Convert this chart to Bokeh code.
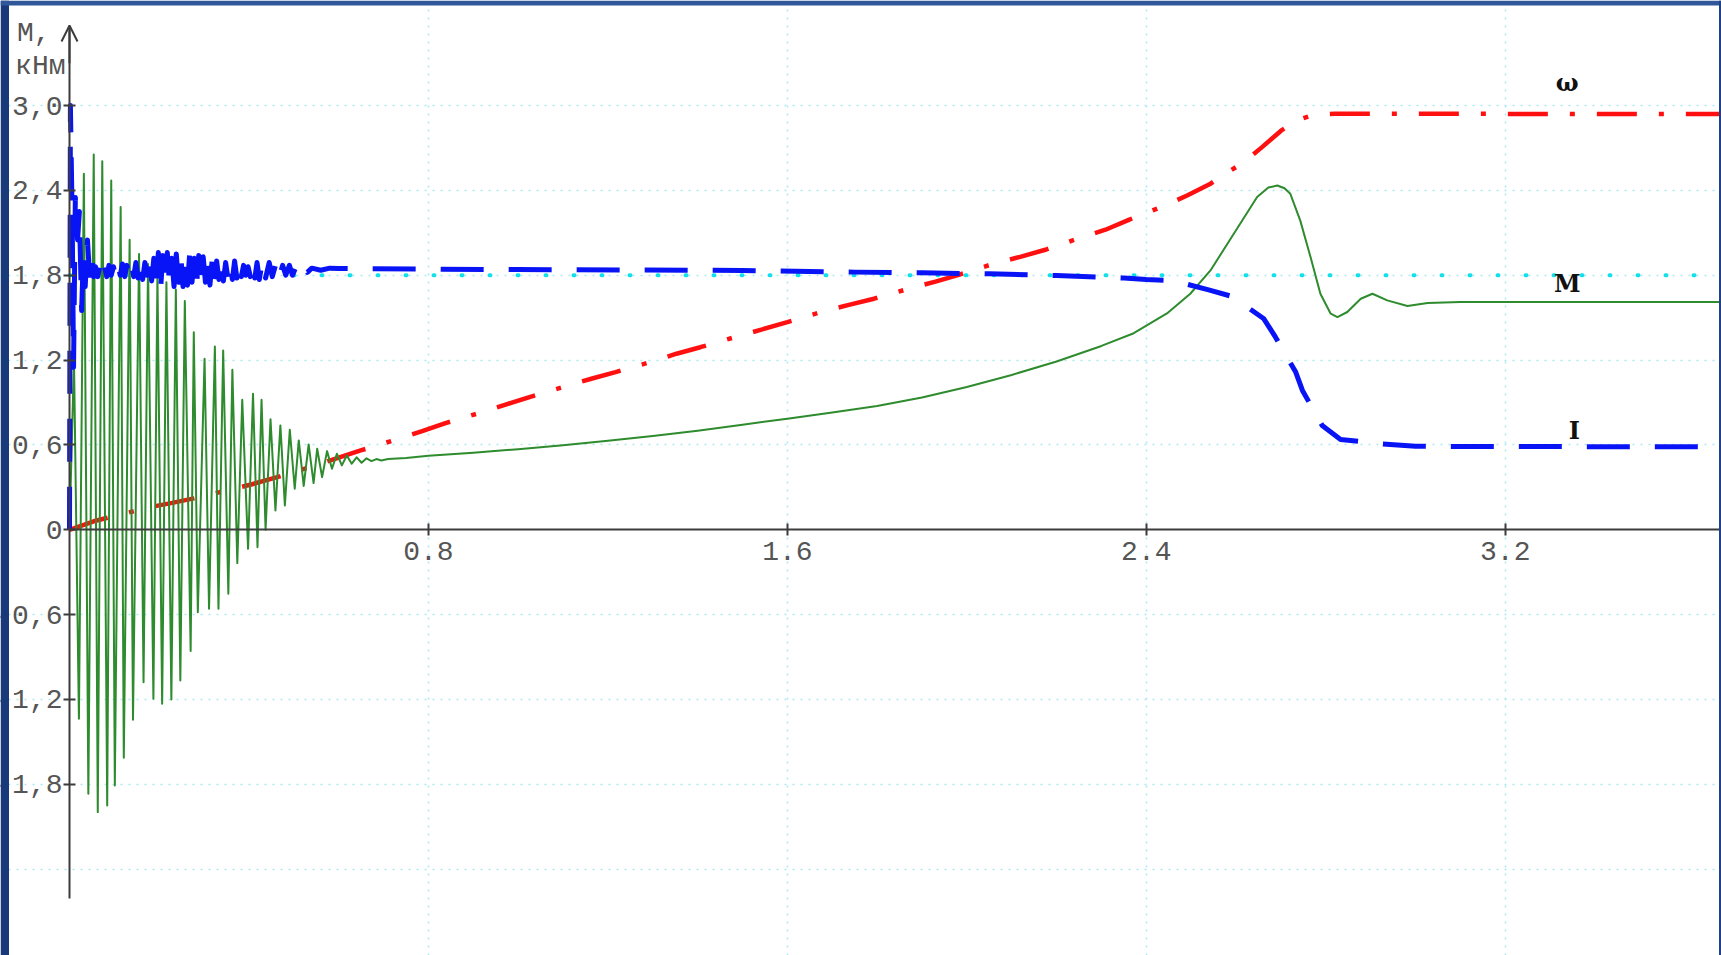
from bokeh.plotting import figure
from bokeh.models import FixedTicker, Label, Arrow, OpenHead, BoxAnnotation
from bokeh.embed import file_html
from bokeh.resources import INLINE

# ---------------- data ----------------
# time axis ticks and torque axis ticks
x_ticks = [0.8, 1.6, 2.4, 3.2]
x_tick_labels = ["0.8", "1.6", "2.4", "3.2"]
y_ticks = [-1.8, -1.2, -0.6, 0.0, 0.6, 1.2, 1.8, 2.4, 3.0]
y_tick_labels = ["-1,8", "-1,2", "-0,6", "0", "0,6", "1,2", "1,8", "2,4", "3,0"]
y_grid_ticks = [-2.4, -1.8, -1.2, -0.6, 0.6, 1.2, 1.8, 2.4, 3.0]

# omega (speed), red dash-dot
w_t = [0, 0.054, 0.129, 0.188, 0.229, 0.277, 0.351, 0.407, 0.463, 0.541, 0.649,
       0.734, 0.786, 0.838, 0.92, 0.972, 1.027, 1.109, 1.163, 1.217, 1.299, 1.353,
       1.406, 1.488, 1.544, 1.6, 1.681, 1.737, 1.793, 1.875, 1.93, 1.982, 2.064,
       2.119, 2.175, 2.253, 2.309, 2.361, 2.439, 2.491, 2.543, 2.617, 2.658, 2.701,
       2.74, 2.773, 2.82, 3.682]
w_v = [0, 0.06, 0.12, 0.165, 0.19, 0.222, 0.278, 0.322, 0.372, 0.448, 0.561,
       0.644, 0.697, 0.754, 0.832, 0.885, 0.94, 1.018, 1.068, 1.115, 1.19, 1.245,
       1.291, 1.367, 1.417, 1.468, 1.546, 1.59, 1.634, 1.709, 1.755, 1.803, 1.886,
       1.93, 1.98, 2.065, 2.122, 2.192, 2.29, 2.364, 2.447, 2.6, 2.706, 2.824,
       2.9, 2.935, 2.942, 2.94]

# I (current), blue dashed
i_t = [0, 0.002, 0.006, 0.009, 0.013, 0.018, 0.022, 0.027, 0.031, 0.035, 0.04,
       0.045, 0.05, 0.054, 0.058, 0.063, 0.068, 0.073, 0.078, 0.083, 0.088, 0.093,
       0.098, 0.103, 0.108, 0.113, 0.118, 0.123, 0.128, 0.133, 0.138, 0.143, 0.148,
       0.153, 0.158, 0.163, 0.168, 0.173, 0.178, 0.183, 0.188, 0.193, 0.198, 0.203,
       0.208, 0.213, 0.218, 0.223, 0.228, 0.233, 0.238, 0.243, 0.248, 0.253, 0.258,
       0.263, 0.268, 0.273, 0.278, 0.283, 0.288, 0.293, 0.298, 0.303, 0.308, 0.313,
       0.318, 0.323, 0.328, 0.333, 0.338, 0.343, 0.348, 0.353, 0.358, 0.363, 0.368,
       0.373, 0.378, 0.383, 0.388, 0.393, 0.398, 0.403, 0.408, 0.413, 0.418, 0.423,
       0.43, 0.437, 0.445, 0.452, 0.46, 0.467, 0.475, 0.482, 0.49, 0.497, 0.505,
       0.512, 0.52, 0.53, 0.54, 0.56, 0.58, 0.6,
       0.65, 1.0, 1.5, 1.75, 1.9, 2.05, 2.2, 2.35, 2.4, 2.458, 2.539, 2.591, 2.662,
       2.688, 2.733, 2.748, 2.792, 2.833, 2.922, 3.0, 3.682]
i_v = [0, 3.0, 2.2, 1.15, 2.35, 2.05, 2.25, 1.55, 1.95, 1.72, 2.05,
       1.78, 1.92, 1.79, 1.86, 1.79, 1.87, 1.79, 1.86, 1.79, 1.87, 1.8,
       1.86, 1.79, 1.87, 1.8, 1.88, 1.79, 1.87, 1.8, 1.88, 1.79, 1.89,
       1.78, 1.9, 1.77, 1.89, 1.8, 1.93, 1.76, 1.92, 1.72, 1.96, 1.70,
       1.94, 1.74, 1.96, 1.73, 1.92, 1.72, 1.95, 1.75, 1.94, 1.72, 1.93,
       1.73, 1.96, 1.75, 1.92, 1.72, 1.94, 1.74, 1.93, 1.75, 1.92, 1.73,
       1.91, 1.76, 1.9, 1.77, 1.91, 1.76, 1.89, 1.78, 1.88, 1.77, 1.9,
       1.78, 1.88, 1.79, 1.87, 1.8, 1.86, 1.79, 1.88, 1.78, 1.89, 1.77,
       1.9, 1.78, 1.89, 1.79, 1.88, 1.78, 1.87, 1.8, 1.87, 1.8, 1.86,
       1.81, 1.86, 1.82, 1.85, 1.835, 1.85, 1.848,
       1.846, 1.84, 1.834, 1.822, 1.817, 1.81, 1.798, 1.78, 1.77, 1.763, 1.697, 1.65, 1.492,
       1.362, 1.115, 0.985, 0.738, 0.639, 0.608, 0.59, 0.586]

# M (torque), green solid
m_t = [0.0, 0.010, 0.021, 0.032, 0.042, 0.054, 0.063, 0.073, 0.084, 0.093, 0.101,
       0.114, 0.121, 0.134, 0.1415, 0.155, 0.165, 0.175, 0.187, 0.196, 0.2065, 0.216,
       0.227, 0.237, 0.247, 0.257, 0.270, 0.277, 0.286, 0.301, 0.311, 0.324, 0.332,
       0.3425, 0.354, 0.363, 0.374, 0.385, 0.398, 0.409, 0.419, 0.428, 0.437, 0.448,
       0.459, 0.470, 0.480, 0.491, 0.502, 0.511, 0.522, 0.533, 0.544, 0.552, 0.563,
       0.574, 0.585, 0.596, 0.607, 0.618, 0.629, 0.640, 0.651, 0.662, 0.673, 0.684,
       0.695, 0.71, 0.75, 0.8, 0.9, 1.0, 1.1, 1.2, 1.3, 1.4, 1.5, 1.6, 1.7, 1.8, 1.9,
       2.0, 2.1, 2.2, 2.3, 2.372, 2.446, 2.498, 2.543, 2.595, 2.647, 2.672, 2.692,
       2.708, 2.721, 2.743, 2.766, 2.788, 2.811, 2.826, 2.848, 2.878, 2.904, 2.937,
       2.982, 3.027, 3.1, 3.682]
m_v = [0.0, 1.2, -1.337, 2.518, -1.867, 2.654, -1.997, 2.607, -1.95, 2.47, -1.808,
       2.282, -1.612, 2.051, -1.344, 1.95, -1.078, 1.88, -1.195, 1.80, -1.23, 1.75,
       -1.20, 1.70, -1.066, 1.617, -0.858, 1.397, -0.583, 1.209, -0.559, 1.296, -0.559,
       1.268, -0.453, 1.131, -0.236, 0.919, -0.135, 0.962, -0.123, 0.919, 0.0, 0.781,
       0.137, 0.738, 0.172, 0.707, 0.29, 0.632, 0.31, 0.603, 0.33, 0.573, 0.372,
       0.556, 0.431, 0.537, 0.455, 0.525, 0.467, 0.512, 0.474, 0.505, 0.485, 0.50,
       0.49, 0.50, 0.507, 0.523, 0.545, 0.57, 0.598, 0.63, 0.663, 0.70, 0.743, 0.785,
       0.83, 0.875, 0.935, 1.01, 1.095, 1.19, 1.3, 1.39, 1.53, 1.669, 1.834, 2.093,
       2.353, 2.42, 2.435, 2.415, 2.376, 2.188, 1.929, 1.669, 1.528, 1.504, 1.54,
       1.634, 1.669, 1.622, 1.582, 1.604, 1.61, 1.61]

# reference level (cyan dotted)
ref_t = [0.0, 3.682]
ref_v = [1.80, 1.80]

series_names = ["ω", "M", "I"]

# ---------------- figure ----------------
W, H = 1721, 955
X0, X1 = -0.1538, 3.682
Y0, Y1 = -3.011, 3.743
AXIS_COLOR = "#3c3c3c"
LABEL_COLOR = "#555555"
GRID_COLOR = "#abe9f1"


def px_to_x(px):
    return X0 + (X1 - X0) * px / W


def py_to_y(py):
    return Y1 - (Y1 - Y0) * py / H


p = figure(width=W, height=H, output_backend="svg", toolbar_location=None,
           x_range=(X0, X1), y_range=(Y0, Y1),
           min_border=0, min_border_left=0, min_border_right=0,
           min_border_top=0, min_border_bottom=0)
p.outline_line_color = None
p.background_fill_color = "white"
p.border_fill_color = "white"

# grids
p.xgrid.ticker = FixedTicker(ticks=x_ticks)
p.xgrid.bounds = (-3.2, 3.0)
p.ygrid.ticker = FixedTicker(ticks=y_grid_ticks)
p.ygrid.bounds = (0.0, X1)
for g in (p.xgrid, p.ygrid):
    g.grid_line_color = GRID_COLOR
    g.grid_line_width = 1.5
    g.grid_line_dash = "2 6"

# x axis at y = 0
xa = p.xaxis[0]
xa.fixed_location = 0
xa.ticker = FixedTicker(ticks=x_ticks)
xa.major_label_overrides = {t: s for t, s in zip(x_ticks, x_tick_labels)}
xa.bounds = (0.0, X1)

# y axis at x = 0
ya = p.yaxis[0]
ya.fixed_location = 0
ya.ticker = FixedTicker(ticks=y_ticks)
ya.major_label_overrides = {t: s for t, s in zip(y_ticks, y_tick_labels)}
ya.bounds = (-2.607, 3.55)

for ax in (xa, ya):
    ax.axis_line_color = AXIS_COLOR
    ax.axis_line_width = 2
    ax.major_tick_line_color = AXIS_COLOR
    ax.major_tick_line_width = 2
    ax.major_tick_in = 6
    ax.major_tick_out = 6
    ax.minor_tick_in = 0
    ax.minor_tick_out = 0
    ax.major_label_text_font = "Liberation Mono"
    ax.major_label_text_font_size = "28px"
    ax.major_label_text_color = LABEL_COLOR
xa.major_label_standoff = 6
ya.major_label_standoff = 1

# arrow head on y axis
p.add_layout(Arrow(end=OpenHead(size=16, line_width=2, line_color=AXIS_COLOR),
                   x_start=0, y_start=3.3, x_end=0, y_end=3.566,
                   line_width=2, line_color=AXIS_COLOR))

# axis title
p.add_layout(Label(x=px_to_x(50), y=py_to_y(33), text="М,", text_align="right",
                   text_baseline="middle", text_font="Liberation Mono",
                   text_font_size="28px", text_color=LABEL_COLOR))
p.add_layout(Label(x=px_to_x(65), y=py_to_y(66), text="кНм", text_align="right",
                   text_baseline="middle", text_font="Liberation Mono",
                   text_font_size="28px", text_color=LABEL_COLOR))

# series
p.line(ref_t, ref_v, line_color="#10e0ec", line_width=4, line_dash="1 27", line_cap="round")
p.line(w_t, w_v, line_color="#ff1010", line_width=4.5, line_dash="40 22 5 22")
p.line(m_t, m_v, line_color="#2e8b2e", line_width=2, line_join="round")
p.line(i_t, i_v, line_color="#0814f5", line_width=5, line_dash="43 25", line_join="round")

# series labels
label_pos = [(3.338, 3.163), (3.338, 1.742), (3.354, 0.702)]
for name, (lx, ly) in zip(series_names, label_pos):
    p.add_layout(Label(x=lx, y=ly, text=name, text_align="center", text_baseline="middle",
                       text_font="DejaVu Serif", text_font_style="bold",
                       text_font_size="24px", text_color="#111111"))

# slide frame strips (left, top, right)
p.add_layout(BoxAnnotation(right=px_to_x(8.5), fill_color="#18397a", fill_alpha=1.0,
                           line_color=None, level="overlay"))
p.add_layout(BoxAnnotation(bottom=py_to_y(5), fill_color="#2f579a", fill_alpha=1.0,
                           line_color=None, level="overlay"))
p.add_layout(BoxAnnotation(left=px_to_x(1718.5), fill_color="#1f4287", fill_alpha=1.0,
                           line_color=None, level="overlay"))

open("out.html", "w").write(file_html(p, INLINE))
